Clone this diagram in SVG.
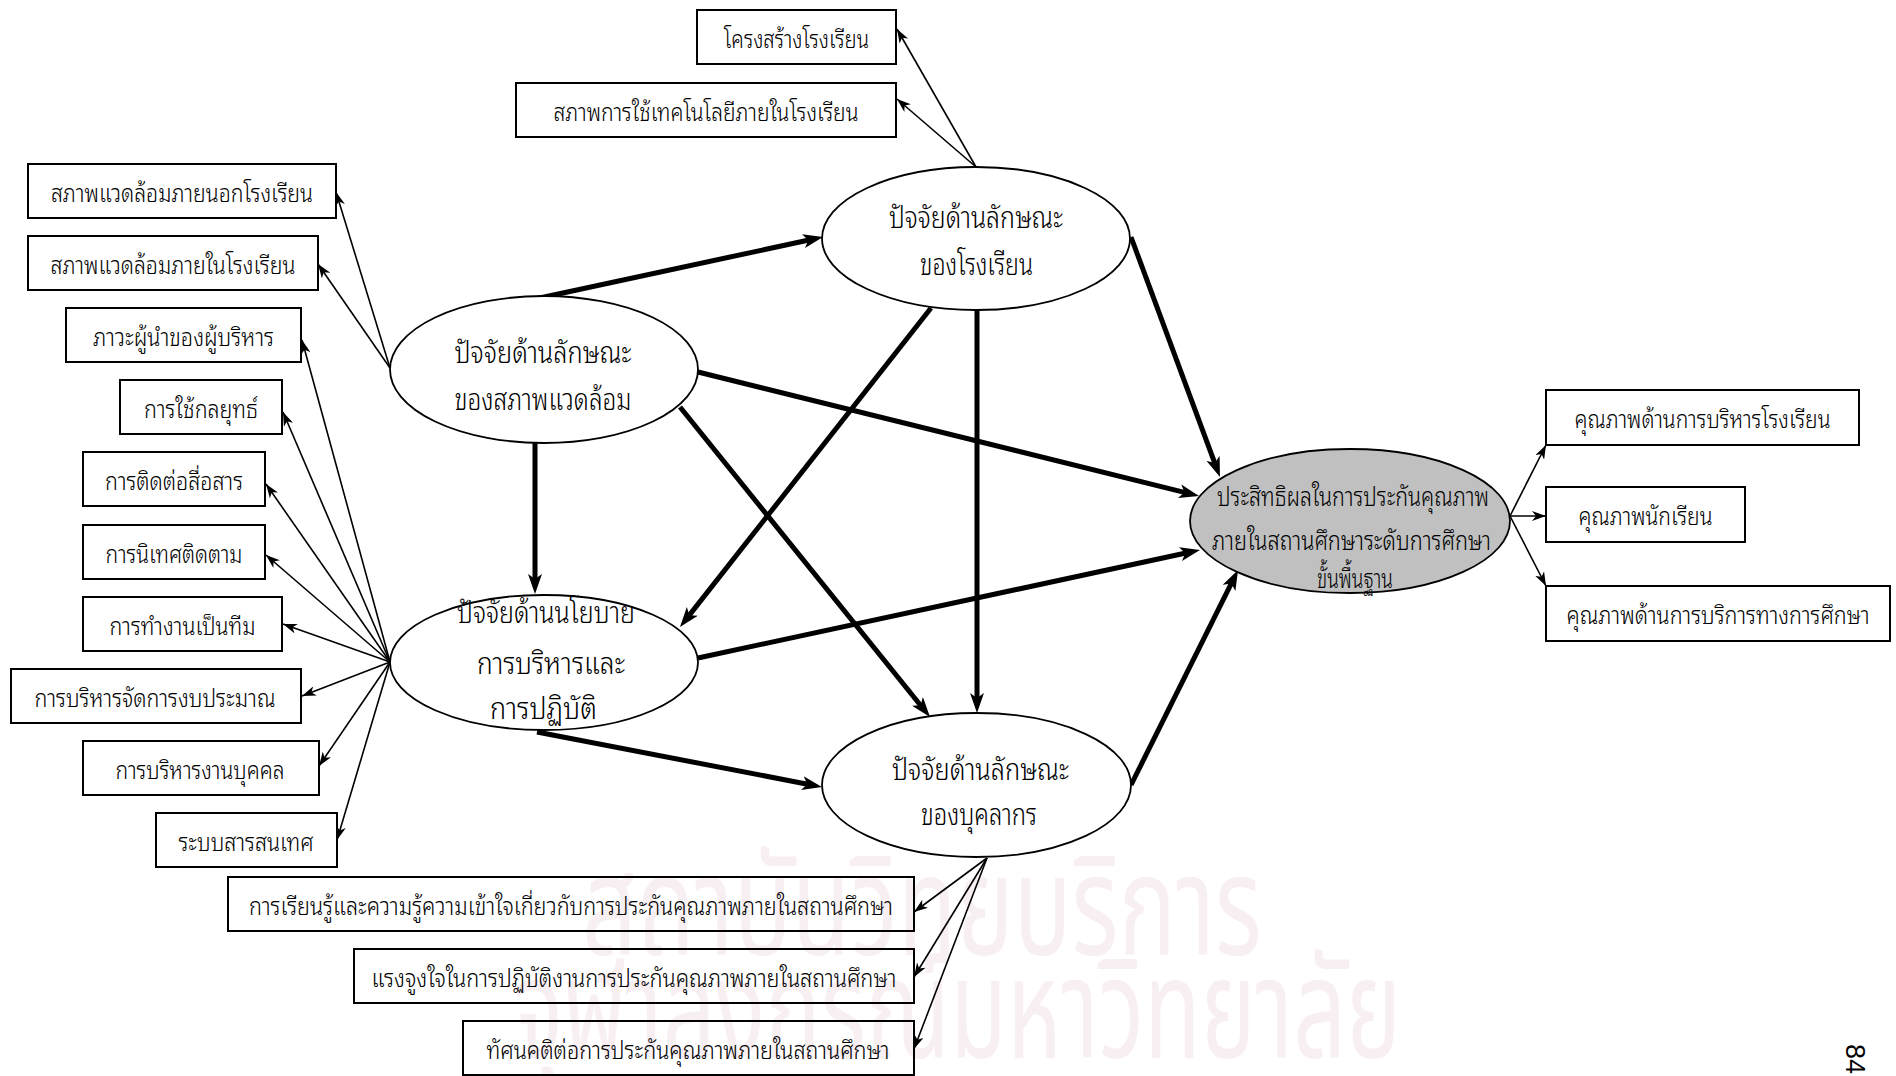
<svg xmlns="http://www.w3.org/2000/svg" width="1896" height="1076" viewBox="0 0 1896 1076">
<defs>
<style>
.box{fill:none;stroke:#000;stroke-width:2}
.ell{fill:#fff;stroke:#000;stroke-width:1.8}
.out{fill:#c0c0c0;stroke:#000;stroke-width:1.8}
.t{font-family:"Noto Sans Thai Looped",Loma,Garuda,"Tlwg Typo","Noto Sans Thai","Noto Sans",sans-serif;font-weight:300;font-size:24px;fill:#000;text-anchor:middle}
.et{font-size:30px}
.ot{font-size:27px}
.wm{font-family:"Noto Sans Thai","Noto Sans",sans-serif;font-size:140px;fill:#f8eff3}
.thin{stroke:#000;stroke-width:1.6;fill:none;marker-end:url(#ah)}
.thick{stroke:#000;stroke-width:5;fill:none;marker-end:url(#ahb)}
.pg{font-family:"Liberation Sans",Arial,sans-serif;font-size:27px;fill:#000}
</style>
<marker id="ah" markerUnits="userSpaceOnUse" viewBox="0 0 14 10" markerWidth="14" markerHeight="10" refX="14" refY="5" orient="auto"><path d="M0,0 L14,5 L0,10 L4,5 z" fill="#000"/></marker>
<marker id="ahb" markerUnits="userSpaceOnUse" viewBox="0 0 20 14" markerWidth="20" markerHeight="14" refX="8" refY="7" orient="auto"><path d="M0,0 L20,7 L0,14 L5,7 z" fill="#000"/></marker>
</defs>
<rect x="0" y="0" width="1896" height="1076" fill="#fff"/>
<g id="watermark">
<text class="wm" x="582" y="955" textLength="680" lengthAdjust="spacingAndGlyphs">สถาบันวิทยบริการ</text>
<text class="wm" x="514" y="1058" textLength="887" lengthAdjust="spacingAndGlyphs">จุฬาลงกรณ์มหาวิทยาลัย</text>
</g>
<g id="connectors">
<line class="thin" x1="390" y1="368" x2="336" y2="192"/>
<line class="thin" x1="390" y1="368" x2="318" y2="264"/>
<line class="thin" x1="390" y1="662" x2="302" y2="340"/>
<line class="thin" x1="390" y1="662" x2="283" y2="412"/>
<line class="thin" x1="390" y1="662" x2="266" y2="484"/>
<line class="thin" x1="390" y1="662" x2="266" y2="555"/>
<line class="thin" x1="390" y1="662" x2="283" y2="624"/>
<line class="thin" x1="390" y1="662" x2="302" y2="696"/>
<line class="thin" x1="390" y1="662" x2="319" y2="766"/>
<line class="thin" x1="390" y1="662" x2="337" y2="840"/>
<line class="thin" x1="976" y1="167" x2="897" y2="29"/>
<line class="thin" x1="976" y1="167" x2="897" y2="99"/>
<line class="thin" x1="987" y1="858" x2="914" y2="912"/>
<line class="thin" x1="987" y1="858" x2="914" y2="977"/>
<line class="thin" x1="987" y1="858" x2="914" y2="1049"/>
<line class="thin" x1="1510" y1="516" x2="1546" y2="445"/>
<line class="thin" x1="1510" y1="516" x2="1546" y2="516"/>
<line class="thin" x1="1510" y1="516" x2="1546" y2="586"/>
<line class="thick" x1="535" y1="299" x2="811.3" y2="239.5"/>
<line class="thick" x1="698" y1="372" x2="1187.4" y2="493.1"/>
<line class="thick" x1="680" y1="407" x2="922.5" y2="707.7"/>
<line class="thick" x1="535" y1="443" x2="535" y2="582"/>
<line class="thick" x1="1131" y1="237" x2="1215.8" y2="465.8"/>
<line class="thick" x1="931" y1="308" x2="687.4" y2="617.6"/>
<line class="thick" x1="977" y1="310" x2="977" y2="701"/>
<line class="thick" x1="698" y1="658" x2="1188.3" y2="552.5"/>
<line class="thick" x1="537" y1="732" x2="810.2" y2="784.7"/>
<line class="thick" x1="1131" y1="785" x2="1232.7" y2="580.7"/>
</g>
<g id="n-env">
<ellipse class="ell" cx="544" cy="369.5" rx="154" ry="73.5"/>
<text class="t et" x="543" y="363" textLength="177" lengthAdjust="spacingAndGlyphs">ปัจจัยด้านลักษณะ</text>
<text class="t et" x="543" y="410" textLength="177" lengthAdjust="spacingAndGlyphs">ของสภาพแวดล้อม</text>
</g>
<g id="n-school">
<ellipse class="ell" cx="976" cy="238.5" rx="154" ry="71.5"/>
<text class="t et" x="976" y="228" textLength="174" lengthAdjust="spacingAndGlyphs">ปัจจัยด้านลักษณะ</text>
<text class="t et" x="976.5" y="275" textLength="113" lengthAdjust="spacingAndGlyphs">ของโรงเรียน</text>
</g>
<g id="n-policy">
<ellipse class="ell" cx="544" cy="662.5" rx="154" ry="67.5"/>
<text class="t et" x="546" y="623" textLength="178" lengthAdjust="spacingAndGlyphs">ปัจจัยด้านนโยบาย</text>
<text class="t et" x="551" y="674" textLength="148" lengthAdjust="spacingAndGlyphs">การบริหารและ</text>
<text class="t et" x="543.5" y="719" textLength="107" lengthAdjust="spacingAndGlyphs">การปฏิบัติ</text>
</g>
<g id="n-personnel">
<ellipse class="ell" cx="976.5" cy="785" rx="154.5" ry="72"/>
<text class="t et" x="980.5" y="780" textLength="177" lengthAdjust="spacingAndGlyphs">ปัจจัยด้านลักษณะ</text>
<text class="t et" x="979" y="825" textLength="116" lengthAdjust="spacingAndGlyphs">ของบุคลากร</text>
</g>
<g id="n-outcome">
<ellipse class="out" cx="1350" cy="521" rx="160" ry="72"/>
<text class="t ot" x="1353" y="506" textLength="272" lengthAdjust="spacingAndGlyphs">ประสิทธิผลในการประกันคุณภาพ</text>
<text class="t ot" x="1351.5" y="550" textLength="279" lengthAdjust="spacingAndGlyphs">ภายในสถานศึกษาระดับการศึกษา</text>
<text class="t ot" x="1355" y="588" textLength="76" lengthAdjust="spacingAndGlyphs">ขั้นพื้นฐาน</text>
</g>
<g id="b1"><rect class="box" x="697" y="10" width="199" height="54"/><text class="t" x="796.5" y="48" textLength="145" lengthAdjust="spacingAndGlyphs">โครงสร้างโรงเรียน</text></g>
<g id="b2"><rect class="box" x="516" y="83" width="380" height="54"/><text class="t" x="706" y="121" textLength="305" lengthAdjust="spacingAndGlyphs">สภาพการใช้เทคโนโลยีภายในโรงเรียน</text></g>
<g id="b3"><rect class="box" x="28" y="164" width="308" height="54"/><text class="t" x="182" y="202" textLength="262" lengthAdjust="spacingAndGlyphs">สภาพแวดล้อมภายนอกโรงเรียน</text></g>
<g id="b4"><rect class="box" x="28" y="236" width="290" height="54"/><text class="t" x="173" y="274" textLength="245" lengthAdjust="spacingAndGlyphs">สภาพแวดล้อมภายในโรงเรียน</text></g>
<g id="b5"><rect class="box" x="66" y="308" width="235" height="54"/><text class="t" x="183.5" y="346" textLength="181" lengthAdjust="spacingAndGlyphs">ภาวะผู้นำของผู้บริหาร</text></g>
<g id="b6"><rect class="box" x="120" y="380" width="162" height="54"/><text class="t" x="201" y="418" textLength="114" lengthAdjust="spacingAndGlyphs">การใช้กลยุทธ์</text></g>
<g id="b7"><rect class="box" x="83" y="452" width="182" height="54"/><text class="t" x="174" y="490" textLength="138" lengthAdjust="spacingAndGlyphs">การติดต่อสื่อสาร</text></g>
<g id="b8"><rect class="box" x="83" y="525" width="182" height="54"/><text class="t" x="174" y="563" textLength="137" lengthAdjust="spacingAndGlyphs">การนิเทศติดตาม</text></g>
<g id="b9"><rect class="box" x="83" y="597" width="199" height="54"/><text class="t" x="182.5" y="635" textLength="146" lengthAdjust="spacingAndGlyphs">การทำงานเป็นทีม</text></g>
<g id="b10"><rect class="box" x="11" y="669" width="290" height="54"/><text class="t" x="155" y="707" textLength="241" lengthAdjust="spacingAndGlyphs">การบริหารจัดการงบประมาณ</text></g>
<g id="b11"><rect class="box" x="83" y="741" width="236" height="54"/><text class="t" x="200" y="779" textLength="169" lengthAdjust="spacingAndGlyphs">การบริหารงานบุคคล</text></g>
<g id="b12"><rect class="box" x="156" y="813" width="181" height="54"/><text class="t" x="246" y="851" textLength="135" lengthAdjust="spacingAndGlyphs">ระบบสารสนเทศ</text></g>
<g id="b13"><rect class="box" x="228" y="877" width="686" height="54"/><text class="t" x="571" y="915" textLength="644" lengthAdjust="spacingAndGlyphs">การเรียนรู้และความรู้ความเข้าใจเกี่ยวกับการประกันคุณภาพภายในสถานศึกษา</text></g>
<g id="b14"><rect class="box" x="354" y="949" width="560" height="54"/><text class="t" x="634" y="987" textLength="525" lengthAdjust="spacingAndGlyphs">แรงจูงใจในการปฏิบัติงานการประกันคุณภาพภายในสถานศึกษา</text></g>
<g id="b15"><rect class="box" x="463" y="1021" width="451" height="54"/><text class="t" x="688" y="1059" textLength="403" lengthAdjust="spacingAndGlyphs">ทัศนคติต่อการประกันคุณภาพภายในสถานศึกษา</text></g>
<g id="b16"><rect class="box" x="1546" y="390" width="313" height="55"/><text class="t" x="1702.5" y="428" textLength="256" lengthAdjust="spacingAndGlyphs">คุณภาพด้านการบริหารโรงเรียน</text></g>
<g id="b17"><rect class="box" x="1546" y="487" width="199" height="55"/><text class="t" x="1645.5" y="525" textLength="134" lengthAdjust="spacingAndGlyphs">คุณภาพนักเรียน</text></g>
<g id="b18"><rect class="box" x="1546" y="586" width="344" height="55"/><text class="t" x="1718" y="624" textLength="303" lengthAdjust="spacingAndGlyphs">คุณภาพด้านการบริการทางการศึกษา</text></g>
<text class="pg" transform="translate(1846,1044) rotate(90)">84</text>
</svg>
